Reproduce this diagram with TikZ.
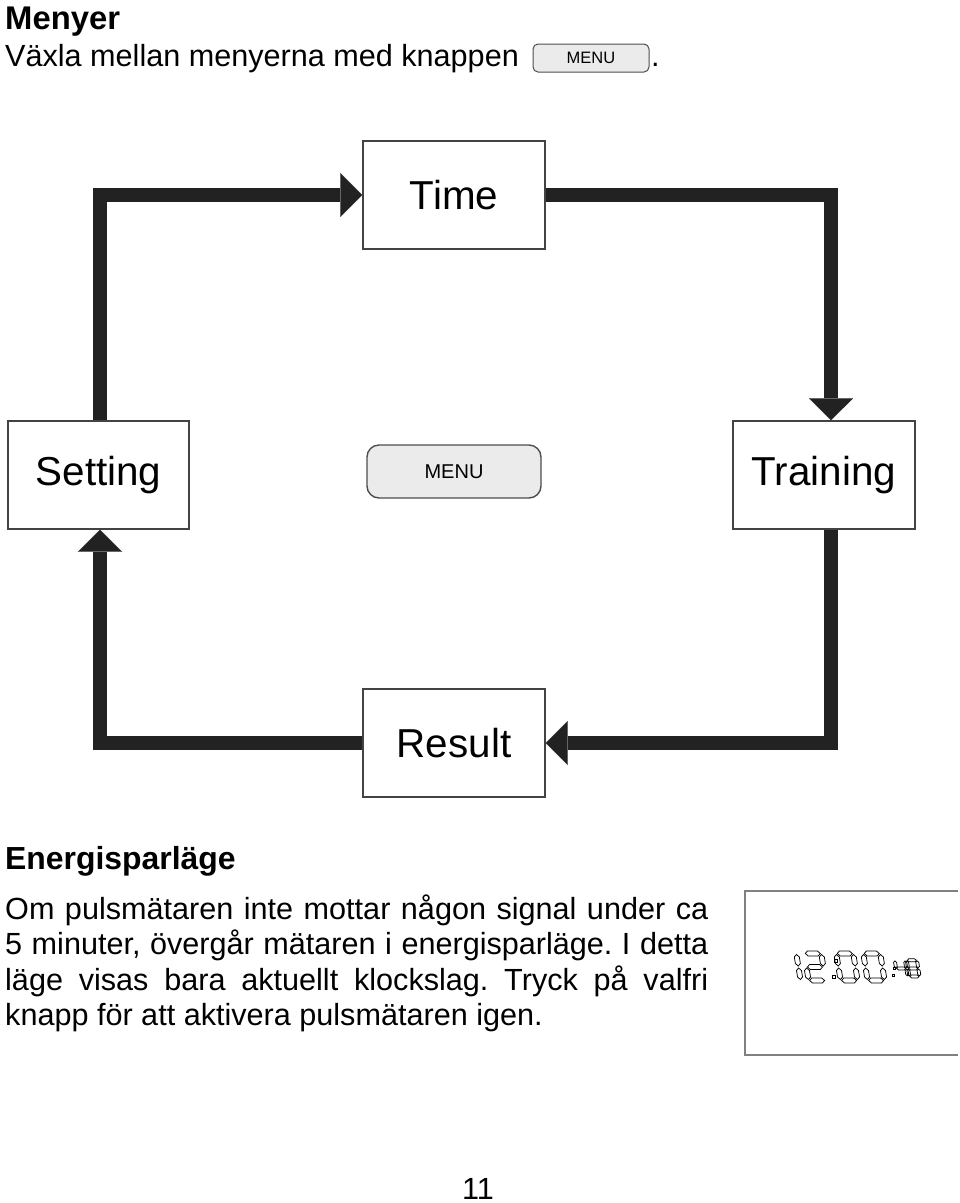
\documentclass[tikz,border=0pt]{standalone}
\usepackage{fontspec}
\setmainfont{Liberation Sans}
\usetikzlibrary{arrows.meta}
\definecolor{ink}{HTML}{222222}
\newcommand\myfs[2]{\fontsize{#1}{#2}\selectfont}
% seven-segment pieces (local coords, y up)
\newcommand\sgH[1]{\draw[lcd] (2,#1) -- (4.5,{#1+2.5}) -- (14.5,{#1+2.5}) -- (17,#1) -- (14.5,{#1-2.5}) -- (4.5,{#1-2.5}) -- cycle;}
\newcommand\sgV[3]{\draw[lcd] (#1,{#2+1}) -- ({#1+2.5},{#2+3.5}) -- ({#1+2.5},{#3-3.5}) -- (#1,{#3-1}) -- ({#1-2.5},{#3-3.5}) -- ({#1-2.5},{#2+3.5}) -- cycle;}
\def\lcdSa{\sgH{29.5}}
\def\lcdSd{\sgH{2.5}}
\def\lcdSg{\sgH{16}}
\def\lcdSb{\sgV{18}{16}{29.5}}
\def\lcdSc{\sgV{18}{2.5}{16}}
\def\lcdSe{\sgV{1}{2.5}{16}}
\def\lcdSf{\sgV{1}{16}{29.5}}
\newcommand\lcddigit[4]{\begin{scope}[shift={(#1,#2)},yscale=-1,scale=#3,xslant=0.16]\foreach \s in {#4}{\csname lcdS\s\endcsname}\end{scope}}
\begin{document}
\begin{tikzpicture}[x=1pt,y=-1pt,
  box/.style={draw=ink!85, line width=1.4pt, minimum width=182pt, minimum height=108pt, inner sep=0pt, text=black, font=\myfs{40.4}{48}},
  flow/.style={draw=ink, line width=14pt, line join=miter, -{Triangle[width=44pt,length=22pt,line width=0.1pt]}},
  btn/.style={draw=ink!80, fill=black!8, rounded corners=12pt, line width=1.4pt, inner sep=0pt},
  lcd/.style={draw=black, line width=0.75pt},
  txt/.style={inner sep=0pt, anchor=base west}]
\useasboundingbox (0,0) rectangle (960,1203);

% header
\node[txt, font=\bfseries\myfs{32.8}{36}] (title) at (5,29) {Menyer};
\node[txt, font=\myfs{30.6}{35}] (intro) at (5,66) {Växla mellan menyerna med knappen};
\node[btn, rounded corners=5pt, line width=1pt, minimum width=116pt, minimum height=28pt, font=\myfs{16.5}{18}] (hbtn) at (591,58) {MENU};
\node[txt, font=\myfs{30.6}{35}] (dot) at (651,66) {.};

% diagram
\node[box] (time) at (454,195) {Time};
\node[box, minimum width=181pt] (setting) at (98.5,475) {Setting};
\node[box] (training) at (824,475) {Training};
\node[box] (result) at (454,743) {Result};
\node[btn, minimum width=174pt, minimum height=53pt, font=\myfs{20}{24}] (menu) at (454,471.5) {MENU};

\draw[flow] ([xshift=1.5pt]setting.north) |- (time.west);
\draw[flow] (time.east) -| ([xshift=7pt]training.north);
\draw[flow] ([xshift=7pt]training.south) |- (result.east);
\draw[flow] (result.west) -| ([xshift=1.5pt]setting.south);

% energy saving text
\node[txt, font=\bfseries\myfs{31.9}{36}] (h2) at (5,869) {Energisparläge};
\node[inner sep=0pt, anchor=north west, text width=703pt, align=justify, font=\myfs{30.6}{35.3}] (para) at (5,894.5)
 {\frenchspacing\hyphenpenalty=10000\strut Om pulsmätaren inte mottar någon signal under ca\linebreak
  5 minuter, övergår mätaren i energisparläge. I detta\linebreak
  läge visas bara aktuellt klockslag. Tryck på valfri\linebreak
  knapp för att aktivera pulsmätaren igen.};

% LCD picture
\draw[draw=black!50, line width=1.2pt] (958,891) -- (745,891) -- (745,1055) -- (958,1055);
\lcddigit{783}{983}{1}{b,c}
\lcddigit{808}{983}{1}{a,b,g,e,d}
\draw[lcd] (834,959) rectangle ++(3.5,3.5);
\draw[lcd] (832,975) rectangle ++(3.5,3.5);
\lcddigit{840}{983}{1}{a,b,c,d,e,f}
\lcddigit{867}{983}{1}{a,b,c,d,e,f}
\draw[lcd] (893,967) rectangle ++(2.5,2.5);
\draw[lcd] (892,974) rectangle ++(2.5,2.5);
\lcddigit{897}{978}{0.6}{f,g,b,c}
\lcddigit{909}{978}{0.6}{a,b,c,d,e,f,g}

% page number
\node[anchor=base, inner sep=0pt, font=\myfs{30.6}{35}] (pg) at (478,1199) {11};
\end{tikzpicture}
\end{document}
